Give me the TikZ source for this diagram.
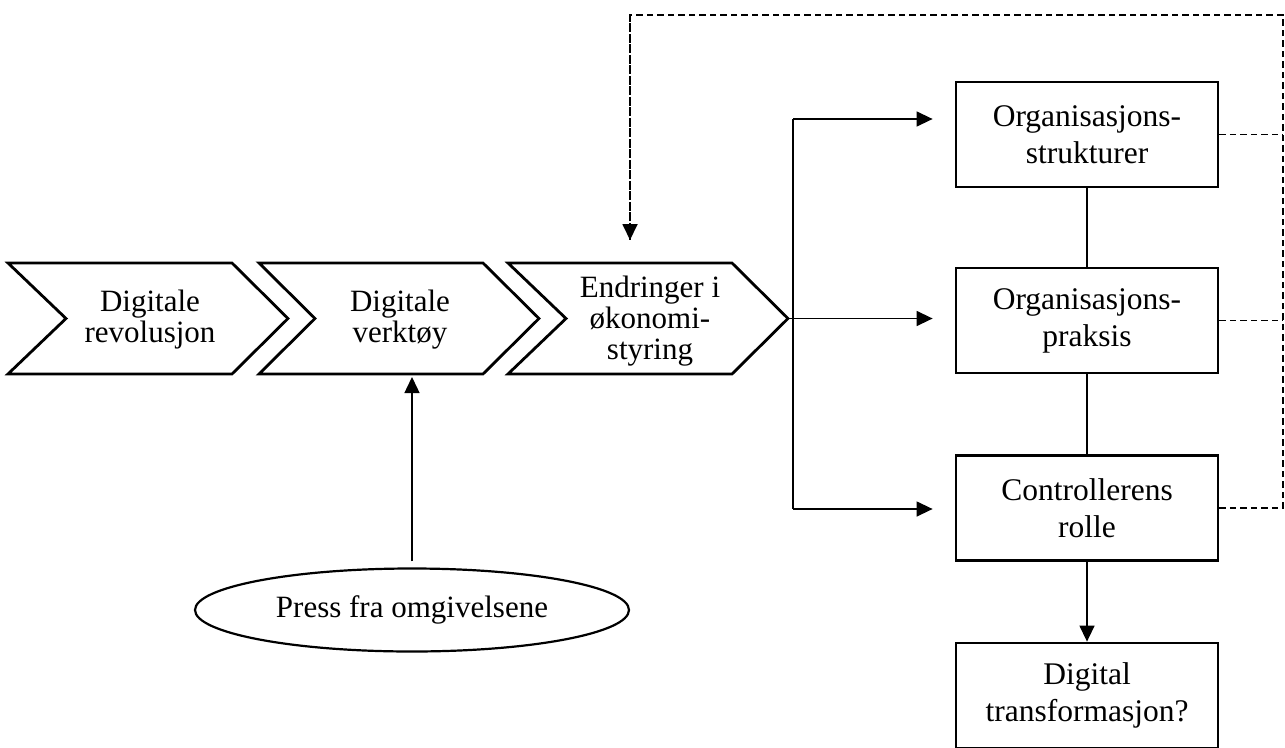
\documentclass[tikz,border=0pt]{standalone}
\usepackage{fontspec}
\setmainfont{Liberation Serif}
\usetikzlibrary{arrows.meta,shapes.geometric}
\begin{document}
\begin{tikzpicture}[x=1pt,y=-1pt,
  chev/.style={draw=black, line width=2.8pt, line join=miter, fill=white},
  lbl/.style={align=center, font=\fontsize{31}{31}\selectfont, inner sep=0pt},
  boxn/.style={draw=black, line width=2.8pt, minimum width=262pt, minimum height=105pt, align=center, font=\fontsize{31.5}{37}\selectfont, inner sep=0pt},
  conn/.style={line width=1.4pt},
  arr/.style={conn, -{Triangle[length=16pt,width=15pt]}},
  fb/.style={line width=1.8pt, dash pattern=on 6.5pt off 4pt},
]
\useasboundingbox (0,0) rectangle (1285,747);

% chevrons
\draw[chev] (8,263) -- (232,263) -- (288,318.5) -- (232,374) -- (8,374) -- (66,318.5) -- cycle;
\draw[chev] (259,263) -- (483,263) -- (539,318.5) -- (483,374) -- (259,374) -- (315,318.5) -- cycle;
\draw[chev] (508,263) -- (732,263) -- (788,318.5) -- (732,374) -- (508,374) -- (566,318.5) -- cycle;
\coordinate (c3tip) at (788,318.5);
\coordinate (c2bot) at (412,374);

\node[lbl] (ch1) at (150,320) {Digitale\\revolusjon};
\node[lbl] (ch2) at (400,320) {Digitale\\verktøy};
\node[lbl] (ch3) at (650,321) {Endringer i\\økonomi-\\styring};

% boxes
\node[boxn] (b1) at (1087,134.5) {Organisasjons-\\strukturer};
\node[boxn] (b2) at (1087,320.5) {Organisasjons-\\praksis};
\node[boxn] (b3) at (1087,508) {Controllerens\\rolle};
\node[boxn] (b4) at (1087,695.5) {Digital\\transformasjon?};

% ellipse
\node[draw, ellipse, line width=2.2pt, minimum width=434pt, minimum height=83pt,
      font=\fontsize{31}{35}\selectfont, inner sep=0pt] (press) at (412,610) {Press fra omgivelsene};

% split connectors
\coordinate (s1) at (793,119);
\coordinate (s3) at (793,509);
\draw[conn] (s1) -- (s3);
\draw[arr, shorten >=22pt] (s1) -- (s1 -| b1.west);
\draw[arr, shorten >=22pt] (c3tip) -- (c3tip -| b2.west);
\draw[arr, shorten >=22pt] (s3) -- (s3 -| b3.west);

% box chain
\draw[conn] (b1) -- (b2);
\draw[conn] (b2) -- (b3);
\draw[arr] (b3) -- (b4);

% press arrow
\draw[arr, shorten >=3pt, shorten <=6pt] (press.north) -- (c2bot);

% feedback dashed
\coordinate (fr) at (1283,15);
\coordinate (fl) at (630,15);
\coordinate (fend) at (630,240);
\draw[fb] (b1.east) -- (b1.east -| fr);
\draw[fb] (b2.east) -- (b2.east -| fr);
\draw[fb] (b3.east) -- (b3.east -| fr) -- (fr) -- (fl) -- (fend);
\draw[fb, -{Triangle[length=16pt,width=15pt]}] (fl) -- (fend);
\end{tikzpicture}
\end{document}
